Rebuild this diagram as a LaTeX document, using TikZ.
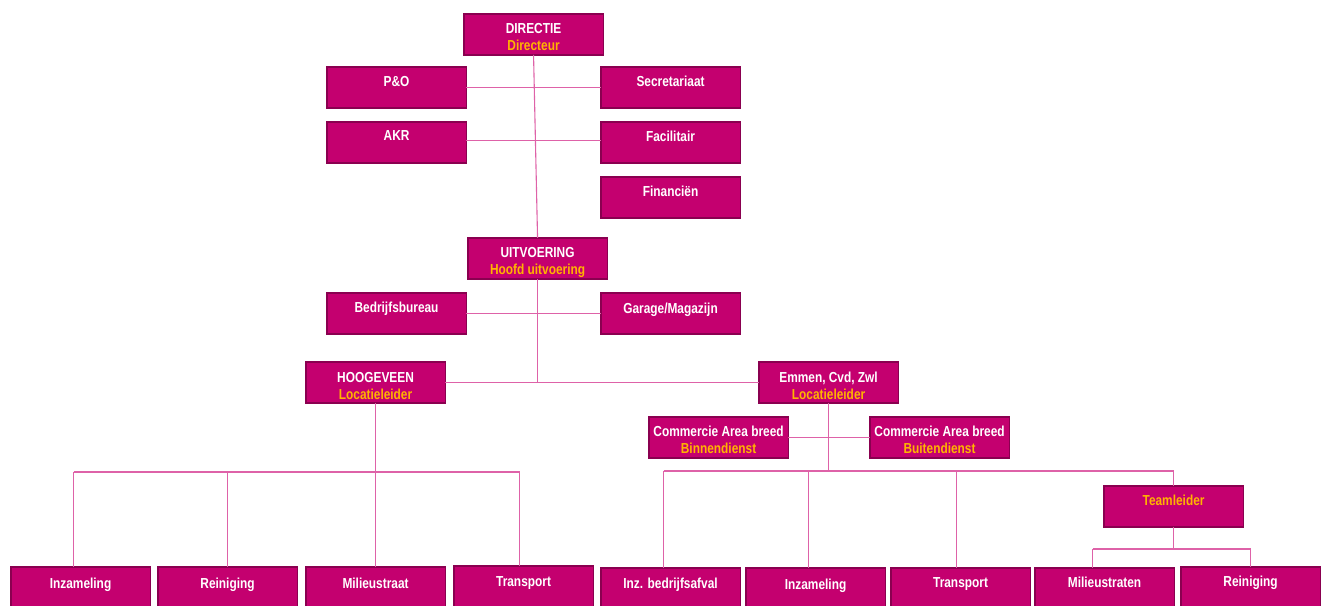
\documentclass[tikz,border=0pt]{standalone}
\usepackage{fontspec}
\newfontfamily\orgfont{Liberation Sans}[FakeStretch=0.82]
\definecolor{boxfill}{HTML}{C4006F}
\definecolor{boxedge}{HTML}{8A0050}
\definecolor{connc}{HTML}{DE62A8}
\definecolor{rolec}{HTML}{FFB400}
\begin{document}
\begin{tikzpicture}[x=1pt,y=-1pt,
  box/.style={draw=boxedge, fill=boxfill, line width=1.6pt, minimum width=139.5pt, minimum height=41pt, anchor=north west, inner sep=0pt, outer sep=0pt},
  lbl/.style={text=white, font=\orgfont\bfseries\fontsize{14.5}{17}\selectfont, align=center, inner sep=0pt, anchor=north},
  conn/.style={draw=connc, line width=1.1pt}]
\useasboundingbox (0,0) rectangle (1322,605);
% boxes
\node[box] (dir) at (463.8,13.8) {};
\node[box] (po) at (326.8,66.8) {};
\node[box] (sec) at (600.8,66.8) {};
\node[box] (akr) at (326.8,121.8) {};
\node[box] (fac) at (600.8,121.8) {};
\node[box] (fin) at (600.8,176.8) {};
\node[box] (uit) at (467.8,237.8) {};
\node[box] (bed) at (326.8,292.8) {};
\node[box] (gar) at (600.8,292.8) {};
\node[box] (hoog) at (305.8,361.8) {};
\node[box] (emm) at (758.8,361.8) {};
\node[box] (cbin) at (648.8,416.8) {};
\node[box] (cbui) at (869.8,416.8) {};
\node[box] (team) at (1103.8,485.8) {};
\node[box] (l1) at (10.8,566.8) {};
\node[box] (l2) at (157.8,566.8) {};
\node[box] (l3) at (305.8,566.8) {};
\node[box] (l4) at (453.8,565.8) {};
\node[box] (r1) at (600.8,567.8) {};
\node[box] (r2) at (745.8,567.8) {};
\node[box] (r3) at (890.8,567.8) {};
\node[box] (r4) at (1034.8,567.8) {};
\node[box] (r5) at (1180.8,566.8) {};
% labels
\node[lbl] at ([yshift=-9pt]dir.north) {DIRECTIE\\\textcolor{rolec}{Directeur}};
\node[lbl] at ([yshift=-9pt]po.north) {P\&O};
\node[lbl] at ([yshift=-9pt]sec.north) {Secretariaat};
\node[lbl] at ([yshift=-9pt]akr.north) {AKR};
\node[lbl] at ([yshift=-9pt]fac.north) {Facilitair};
\node[lbl] at ([yshift=-9pt]fin.north) {Financiën};
\node[lbl] at ([yshift=-9pt]uit.north) {UITVOERING\\\textcolor{rolec}{Hoofd uitvoering}};
\node[lbl] at ([yshift=-9pt]bed.north) {Bedrijfsbureau};
\node[lbl] at ([yshift=-10pt]gar.north) {Garage/Magazijn};
\node[lbl] at ([yshift=-10pt]hoog.north) {HOOGEVEEN\\\textcolor{rolec}{Locatieleider}};
\node[lbl] at ([yshift=-10pt]emm.north) {Emmen, Cvd, Zwl\\\textcolor{rolec}{Locatieleider}};
\node[lbl] at ([yshift=-9pt]cbin.north) {Commercie Area breed\\\textcolor{rolec}{Binnendienst}};
\node[lbl] at ([yshift=-9pt]cbui.north) {Commercie Area breed\\\textcolor{rolec}{Buitendienst}};
\node[lbl] at ([yshift=-9pt]team.north) {\textcolor{rolec}{Teamleider}};
\node[lbl] at ([yshift=-10.5pt]l1.north) {Inzameling};
\node[lbl] at ([yshift=-10.5pt]l2.north) {Reiniging};
\node[lbl] at ([yshift=-10.5pt]l3.north) {Milieustraat};
\node[lbl] at ([yshift=-10.5pt]l4.north) {Transport};
\node[lbl] at ([yshift=-9.5pt]r1.north) {Inz. bedrijfsafval};
\node[lbl] at ([yshift=-10.5pt]r2.north) {Inzameling};
\node[lbl] at ([yshift=-9.5pt]r3.north) {Transport};
\node[lbl] at ([yshift=-8.5pt]r4.north) {Milieustraten};
\node[lbl] at ([yshift=-8.5pt]r5.north) {Reiniging};
% connectors
\coordinate (lbus) at (0,472);
\coordinate (rbus) at (0,471);
\coordinate (tbus) at (0,549);
\coordinate (t1) at ([xshift=-7pt]l1.north);
\coordinate (t2) at (l2.north);
\coordinate (t3) at (l3.north);
\coordinate (t4) at ([xshift=-4pt]l4.north);
\coordinate (s1) at ([xshift=-7pt]r1.north);
\coordinate (s2) at ([xshift=-7pt]r2.north);
\coordinate (s3) at ([xshift=-4pt]r3.north);
\coordinate (s4) at ([xshift=-12pt]r4.north);
\draw[conn] (dir.south) -- (uit.north);
\draw[conn] (po.east) -- (sec.west);
\draw[conn] ([yshift=2pt]akr.east) -- ([yshift=2pt]fac.west);
\draw[conn] (bed.east) -- (gar.west);
\draw[conn] (uit.south) -- (uit.south |- hoog.east);
\draw[conn] (hoog.east) -- (emm.west);
\draw[conn] (hoog.south) -- (hoog.south |- lbus);
\draw[conn] (t1 |- lbus) -- (t4 |- lbus);
\draw[conn] (t1 |- lbus) -- (t1);
\draw[conn] (t2 |- lbus) -- (t2);
\draw[conn] (t3 |- lbus) -- (t3);
\draw[conn] (t4 |- lbus) -- (t4);
\draw[conn] (emm.south) -- (emm.south |- rbus);
\draw[conn] (cbin.east) -- (cbui.west);
\draw[conn] (s1 |- rbus) -- (team.north |- rbus);
\draw[conn] (s1 |- rbus) -- (s1);
\draw[conn] (s2 |- rbus) -- (s2);
\draw[conn] (s3 |- rbus) -- (s3);
\draw[conn] (team.north |- rbus) -- (team.north);
\draw[conn] (team.south) -- (team.south |- tbus);
\draw[conn] (s4 |- tbus) -- (r5.north |- tbus);
\draw[conn] (s4 |- tbus) -- (s4);
\draw[conn] (r5.north |- tbus) -- (r5.north);
\end{tikzpicture}
\end{document}
